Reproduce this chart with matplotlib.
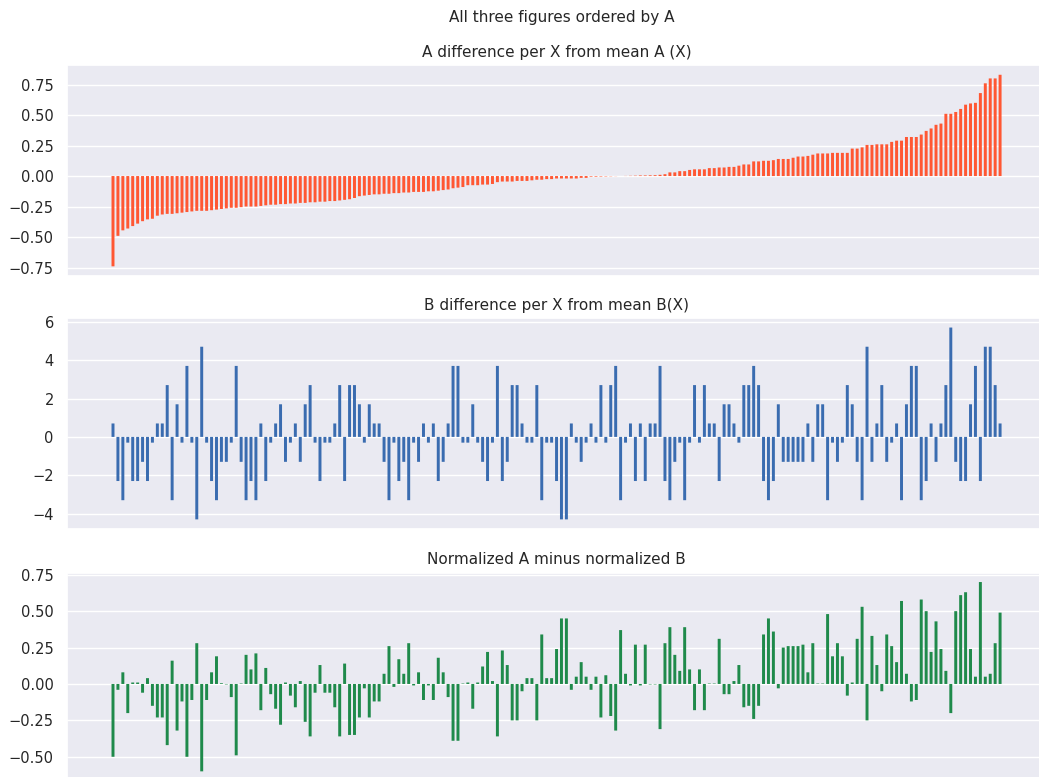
import matplotlib
matplotlib.use("Agg")
import matplotlib.pyplot as plt
import seaborn as sns
from matplotlib.ticker import MultipleLocator

# A difference from mean, sorted ascending
a_diff = [
    -0.74, -0.49, -0.445, -0.43, -0.41, -0.39, -0.37, -0.355, -0.35, -0.325,
    -0.315, -0.31, -0.31, -0.305, -0.30, -0.295, -0.29, -0.285, -0.285, -0.285,
    -0.28, -0.275, -0.27, -0.265, -0.26, -0.26, -0.255, -0.25, -0.25, -0.25,
    -0.245, -0.24, -0.235, -0.235, -0.23, -0.23, -0.225, -0.225, -0.22, -0.22,
    -0.215, -0.215, -0.21, -0.21, -0.205, -0.205, -0.20, -0.195, -0.19, -0.18,
    -0.165, -0.16, -0.155, -0.15, -0.15, -0.145, -0.145, -0.14, -0.14, -0.135,
    -0.135, -0.13, -0.13, -0.13, -0.125, -0.125, -0.12, -0.115, -0.11, -0.10,
    -0.095, -0.09, -0.075, -0.075, -0.075, -0.07, -0.07, -0.065, -0.05, -0.045,
    -0.045, -0.045, -0.04, -0.04, -0.04, -0.035, -0.03, -0.03, -0.025, -0.025,
    -0.02,
    -0.02, -0.02, -0.02, -0.02, -0.015, -0.015, -0.005, -0.005, -0.004, -0.003,
    -0.002, -0.001, 0.0, 0.001, 0.002, 0.003, 0.005, 0.005, 0.006, 0.007,
    0.01, 0.015, 0.03, 0.03, 0.04, 0.04, 0.05, 0.055, 0.055, 0.055,
    0.065, 0.065, 0.07, 0.07, 0.075, 0.075, 0.085, 0.095, 0.095, 0.12,
    0.12, 0.125, 0.125, 0.13, 0.14, 0.14, 0.14, 0.15, 0.16, 0.16,
    0.165, 0.175, 0.185, 0.185, 0.185, 0.19, 0.19, 0.19, 0.19, 0.225,
    0.225, 0.235, 0.255, 0.255, 0.26, 0.26, 0.26, 0.28, 0.29, 0.29,
    0.32, 0.32, 0.32, 0.34, 0.37, 0.39, 0.42, 0.43, 0.51, 0.51,
    0.525, 0.55, 0.585, 0.595, 0.60, 0.68, 0.76, 0.80, 0.80, 0.83,
]

# B difference from mean, same order as A
b_diff = [
    0.7, -2.3, -3.3, -0.3, -2.3, -2.3, -1.3, -2.3, -0.3, 0.7, 0.7, 2.7,
    -3.3, 1.7, -0.3, 3.7, -0.3, -4.3, 4.7, -0.3, -2.3, -3.3, -1.3, -1.3,
    -0.3, 3.7, -1.3, -3.3, -2.3, -3.3, 0.7, -2.3, -0.3, 0.7, 1.7, -1.3,
    -0.3, 0.7, -1.3, 1.7, 2.7, -0.3, -2.3, -0.3, -0.3, 0.7, 2.7, -2.3,
    2.7, 2.7, 1.7, -0.3, 1.7, 0.7, 0.7, -1.3, -3.3, -0.3, -2.3, -1.3,
    -3.3, -0.3, -1.3, 0.7, -0.3, 0.7, -2.3, -1.3, 0.7, 3.7, 3.7, -0.3,
    -0.3, 1.7, -0.3, -1.3, -2.3, -0.3, 3.7, -2.3, -1.3, 2.7, 2.7, 0.7,
    -0.3, -0.3, 2.7, -3.3, -0.3, -0.3, -2.3, -4.3, -4.3, 0.7, -0.3, -1.3,
    -0.3, 0.7, -0.3, 2.7, -0.3, 2.7, 3.7, -3.3, -0.3, 0.7, -2.3, 0.7, -2.3,
    0.7, 0.7, 3.7, -2.3, -3.3, -1.3, -0.3, -3.3, -0.3, 2.7, -0.3, 2.7,
    0.7, 0.7, -2.3, 1.7, 1.7, 0.7, -0.3, 2.7, 2.7, 3.7, 2.7, -2.3,
    -3.3, -2.3, 1.7, -1.3, -1.3, -1.3, -1.3, -1.3, 0.7, -1.3, 1.7, 1.7,
    -3.3, -0.3, -1.3, -0.3, 2.7, 1.7, -1.3, -3.3, 4.7, -1.3, 0.7, 2.7,
    -1.3, -0.3, 0.7, -3.3, 1.7, 3.7, 3.7, -3.3, -2.3, 0.7, -1.3, 0.7,
    2.7, 5.7, -1.3, -2.3, -2.3, 1.7, 3.7, -2.3, 4.7, 4.7, 2.7, 0.7,
]

# normalized A minus normalized B
ab_norm = [
    -0.50, -0.04, 0.08, -0.20, 0.01, 0.01, -0.06, 0.04, -0.15, -0.23, -0.23, -0.42,
    0.16, -0.32, -0.12, -0.50, -0.11, 0.28, -0.60, -0.11, 0.08, 0.19, 0.005, -0.003,
    -0.09, -0.49, 0.003, 0.20, 0.10, 0.21, -0.18, 0.11, -0.07, -0.17, -0.28, 0.01,
    -0.08, -0.16, 0.02, -0.26, -0.36, -0.06, 0.13, -0.06, -0.06, -0.16, -0.36, 0.14,
    -0.35, -0.35, -0.23, -0.03, -0.23, -0.12, -0.12, 0.07, 0.26, -0.02, 0.17, 0.07,
    0.28, -0.01, 0.08, -0.11, -0.01, -0.11, 0.18, 0.08, -0.09, -0.39, -0.39, 0.003,
    0.01, -0.17, 0.01, 0.12, 0.22, 0.02, -0.36, 0.23, 0.13, -0.25, -0.25, -0.05,
    0.04, 0.04, -0.25, 0.34, 0.04, 0.04, 0.24, 0.45, 0.45, -0.04, 0.05, 0.15,
    0.05, -0.04, 0.05, -0.23, 0.06, -0.22, -0.32, 0.37, 0.07, -0.01, 0.27, -0.01, 0.27,
    -0.003, -0.003, -0.31, 0.28, 0.39, 0.20, 0.09, 0.39, 0.10, -0.18, 0.10, -0.18,
    0.003, 0.003, 0.31, -0.07, -0.07, 0.02, 0.13, -0.16, -0.15, -0.24, -0.15, 0.34,
    0.45, 0.36, -0.03, 0.25, 0.26, 0.26, 0.26, 0.27, 0.08, 0.28, 0.003, 0.003,
    0.48, 0.19, 0.28, 0.19, -0.08, 0.01, 0.31, 0.53, -0.25, 0.33, 0.13, -0.05,
    0.34, 0.26, 0.15, 0.57, 0.07, -0.12, -0.11, 0.58, 0.50, 0.22, 0.43, 0.24,
    0.09, -0.20, 0.50, 0.61, 0.63, 0.24, 0.05, 0.70, 0.05, 0.07, 0.28, 0.49,
]

titles = [
    "A difference per X from mean A (X)",
    "B difference per X from mean B(X)",
    "Normalized A minus normalized B",
]
colors = ["#ff5733", "#3a6cb0", "#1f8a4b"]

sns.set_theme(style="darkgrid")
plt.rcParams['font.family'] = ['DejaVu Sans']

fig = plt.figure(figsize=(10.39, 7.77), dpi=100)
fig.suptitle("All three figures ordered by A", x=0.541, y=0.978, va="center", fontsize=11)

# axes boxes (left, bottom, width, height) in figure fraction
boxes = [
    [0.0645, 0.6449, 0.9423, 0.2712],
    [0.0645, 0.3192, 0.9423, 0.2716],
    [0.0645, -0.0049, 0.9423, 0.2680],
]
series = [a_diff, b_diff, ab_norm]
steps = [0.25, 2, 0.25]

for vals, title, col, box, step in zip(series, titles, colors, boxes, steps):
    ax = fig.add_axes(box)
    bars = ax.bar(range(len(vals)), vals, width=0.6, color=col, linewidth=0)
    for b in bars:
        b.set_snap(False)
    ax.set_title(title, fontsize=11)
    ax.set_xticks([])
    ax.yaxis.set_major_locator(MultipleLocator(step))
    ax.tick_params(axis="y", labelsize=10.5)

fig.savefig("out.png", dpi=100)
